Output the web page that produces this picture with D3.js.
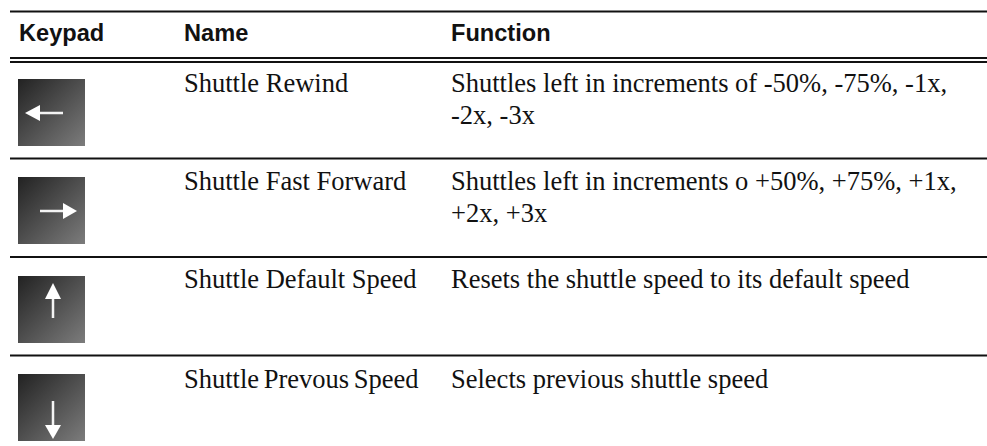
<!DOCTYPE html>
<html>
<head>
<meta charset="utf-8">
<script src="https://cdn.jsdelivr.net/npm/d3@7"></script>
<style>
  html, body { margin: 0; padding: 0; background: #fff; }
  svg { display: block; }
  .head { font: bold 23.6px "Liberation Sans", Arial, sans-serif; fill: #111; }
  .cell { font: 26.5px "Liberation Serif", "Times New Roman", serif; fill: #111; }
</style>
</head>
<body>
<div id="table"></div>
<script>
// table content
const headers = ["Keypad", "Name", "Function"];
const names = [
  "Shuttle Rewind",
  "Shuttle Fast Forward",
  "Shuttle Default Speed",
  "Shuttle Prevous Speed"
];
const functions = [
  ["Shuttles left in increments of -50%, -75%, -1x,", "-2x, -3x"],
  ["Shuttles left in increments o +50%, +75%, +1x,", "+2x, +3x"],
  ["Resets the shuttle speed to its default speed"],
  ["Selects previous shuttle speed"]
];
const directions = ["left", "right", "up", "down"];

const width = 987, height = 446;
const colX = { Keypad: 19, Name: 184, Function: 451 };
const baselines = [92, 190, 288, 388];
const iconY = [79, 177, 276, 374];
const iconSize = 67;
const ruleLeft = 10, ruleRight = 987;

const svg = d3.select("#table").append("svg")
  .attr("width", width)
  .attr("height", height);

const defs = svg.append("defs");

// gradient behind each key icon
const grad = defs.append("linearGradient")
  .attr("id", "key")
  .attr("x1", 0).attr("y1", 0).attr("x2", 1).attr("y2", 1);
grad.append("stop").attr("offset", "0%").attr("stop-color", "#222222");
grad.append("stop").attr("offset", "100%").attr("stop-color", "#7c7c7c");

// the arrows are a bit soft in the original
defs.append("filter").attr("id", "soft")
  .append("feGaussianBlur").attr("stdDeviation", 0.6);

// rules
function rule(y, h) {
  svg.append("rect")
    .attr("x", ruleLeft).attr("y", y)
    .attr("width", ruleRight - ruleLeft).attr("height", h)
    .attr("fill", "#111");
}
rule(10.5, 2);
rule(57, 2);
rule(61, 2);
rule(157.5, 2);
rule(256, 2);
rule(354.5, 2);

// header
svg.selectAll(".head")
  .data(headers)
  .join("text")
  .attr("class", "head")
  .attr("x", d => colX[d])
  .attr("y", 40.5)
  .text(d => d);

// arrow shapes, measured from the top left of the key
const arrows = {
  left: { line: [22, 34, 45, 34], head: [[7, 34], [22, 26], [22, 42]] },
  right: { line: [22, 34, 45, 34], head: [[59, 34], [45, 26], [45, 42]] },
  up: { line: [35, 23, 35, 42], head: [[35, 7], [27, 23], [43, 23]] },
  down: { line: [35, 27, 35, 51], head: [[35, 65], [27, 51], [43, 51]] }
};

const rows = svg.selectAll(".row")
  .data(names.map((name, i) => ({ name, lines: functions[i], dir: directions[i], i })))
  .join("g")
  .attr("class", "row");

rows.append("rect")
  .attr("x", 18)
  .attr("y", d => iconY[d.i])
  .attr("width", iconSize)
  .attr("height", iconSize)
  .attr("fill", "url(#key)");

const keys = rows.append("g")
  .attr("transform", d => `translate(18,${iconY[d.i]})`)
  .attr("filter", "url(#soft)");

keys.append("line")
  .attr("x1", d => arrows[d.dir].line[0])
  .attr("y1", d => arrows[d.dir].line[1])
  .attr("x2", d => arrows[d.dir].line[2])
  .attr("y2", d => arrows[d.dir].line[3])
  .attr("stroke", "#f4f4f4")
  .attr("stroke-width", 2.5);

keys.append("polygon")
  .attr("points", d => arrows[d.dir].head.join(" "))
  .attr("fill", "#fff");

// last name sits tighter in the original
rows.append("text")
  .attr("class", "cell")
  .attr("x", colX.Name)
  .attr("y", d => baselines[d.i])
  .attr("word-spacing", d => d.i === 3 ? -2 : 0)
  .text(d => d.name);

rows.selectAll(".fn")
  .data(d => d.lines.map((t, j) => ({ t, j, i: d.i })))
  .join("text")
  .attr("class", "cell fn")
  .attr("x", colX.Function)
  .attr("y", d => baselines[d.i] + d.j * 32)
  .text(d => d.t);
</script>
</body>
</html>
